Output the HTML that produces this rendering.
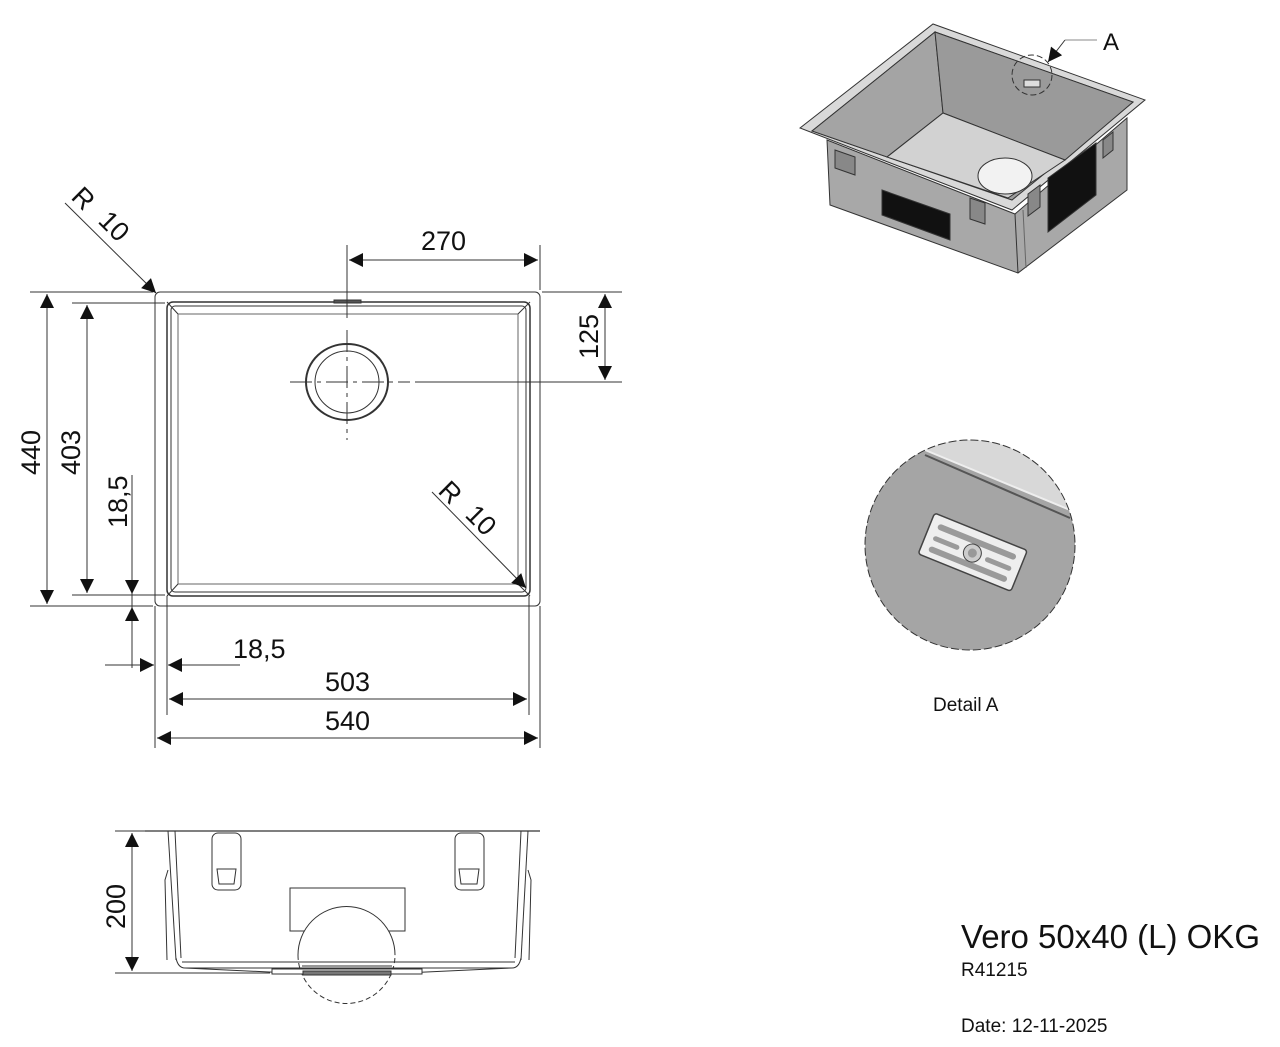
<!DOCTYPE html>
<html><head><meta charset="utf-8"><style>
html,body{margin:0;padding:0;background:#fff}
svg{display:block}
text{font-family:"Liberation Sans",sans-serif;fill:#111}
</style></head><body>
<svg width="1280" height="1047" viewBox="0 0 1280 1047" xmlns="http://www.w3.org/2000/svg">
<defs>
<marker id="b" viewBox="0 0 10 10" refX="10" refY="5" markerWidth="28" markerHeight="14" markerUnits="userSpaceOnUse" orient="auto-start-reverse"><path d="M0,0 L10,5 L0,10 Z" fill="#111"/></marker>
</defs>
<g stroke="#333" stroke-width="1" fill="none">
<rect x="155" y="292" width="385" height="314" rx="5"/>
<rect x="167" y="302" width="363" height="294" rx="6" stroke-width="1.5"/>
<rect x="171" y="306" width="355" height="286" rx="4"/>
<rect x="178" y="314" width="340" height="270" stroke="#666"/>
<line x1="167" y1="302" x2="178" y2="314"/><line x1="530" y1="302" x2="518" y2="314"/>
<line x1="167" y1="596" x2="178" y2="584"/><line x1="530" y1="596" x2="518" y2="584"/>
<rect x="334" y="300" width="27" height="3" fill="#555"/>
<ellipse cx="347" cy="382" rx="41" ry="38" stroke-width="2"/>
<ellipse cx="347" cy="382" rx="32" ry="31"/>
<line x1="290" y1="382" x2="410" y2="382" stroke-dasharray="22,5,4,5"/>
<line x1="347" y1="330" x2="347" y2="440" stroke-dasharray="22,5,4,5"/>
<line x1="347" y1="245" x2="347" y2="318"/>
<line x1="540" y1="245" x2="540" y2="290"/>
<line x1="349" y1="260" x2="538" y2="260" marker-start="url(#b)" marker-end="url(#b)"/>
<line x1="542" y1="292" x2="622" y2="292"/>
<line x1="415" y1="382" x2="622" y2="382"/>
<line x1="605" y1="294" x2="605" y2="380" marker-start="url(#b)" marker-end="url(#b)"/>
<line x1="30" y1="292" x2="153" y2="292"/>
<line x1="30" y1="606" x2="153" y2="606"/>
<line x1="72" y1="303" x2="165" y2="303"/>
<line x1="72" y1="595" x2="165" y2="595"/>
<line x1="47" y1="294" x2="47" y2="604" marker-start="url(#b)" marker-end="url(#b)"/>
<line x1="87" y1="305" x2="87" y2="593" marker-start="url(#b)" marker-end="url(#b)"/>
<line x1="132" y1="475" x2="132" y2="668"/>
<line x1="132" y1="560" x2="132" y2="594" marker-end="url(#b)"/>
<line x1="132" y1="640" x2="132" y2="607" marker-end="url(#b)"/>
<line x1="105" y1="665" x2="154" y2="665" marker-end="url(#b)"/>
<line x1="240" y1="665" x2="168" y2="665" marker-end="url(#b)"/>
<line x1="155" y1="606" x2="155" y2="748"/>
<line x1="167" y1="596" x2="167" y2="715"/>
<line x1="529" y1="596" x2="529" y2="715"/>
<line x1="540" y1="606" x2="540" y2="748"/>
<line x1="169" y1="699" x2="527" y2="699" marker-start="url(#b)" marker-end="url(#b)"/>
<line x1="157" y1="738" x2="538" y2="738" marker-start="url(#b)" marker-end="url(#b)"/>
<line x1="65" y1="203" x2="156" y2="293" marker-end="url(#b)"/>
<line x1="432" y1="492" x2="526" y2="588" marker-end="url(#b)"/>

<line x1="145" y1="831" x2="540" y2="831" stroke-width="1.3"/>
<line x1="168" y1="831" x2="176" y2="960"/><line x1="175" y1="831" x2="181" y2="958"/>
<line x1="528" y1="831" x2="521" y2="960"/><line x1="521" y1="831" x2="515" y2="958"/>
<path d="M168,870 L165,880 L167,960"/><path d="M528,870 L531,880 L529,960"/>
<path d="M176,958 Q178,968 185,968 L512,968 Q519,968 521,958"/>
<line x1="182" y1="962" x2="515" y2="962"/>
<path d="M185,968 L290,973 M405,973 L512,968"/>
<rect x="212" y="833" width="29" height="57" rx="6"/>
<path d="M217,869 L236,869 L234,884 L219,884 Z"/>
<rect x="455" y="833" width="29" height="57" rx="6"/>
<path d="M459,869 L479,869 L477,884 L461,884 Z"/>
<rect x="290" y="888" width="115" height="43" fill="#fff"/>
<path d="M298,955 A48,48 0 0 1 395,955" fill="#fff"/>
<path d="M298,955 A48,48 0 0 0 395,955" stroke-dasharray="5,3"/>
<rect x="272" y="969" width="150" height="5" fill="#fff"/>
<rect x="303" y="971" width="88" height="4" fill="#777"/>
<line x1="302" y1="966" x2="392" y2="966"/>
<line x1="115" y1="831" x2="145" y2="831"/>
<line x1="115" y1="973" x2="270" y2="973"/>
<line x1="132" y1="833" x2="132" y2="971" marker-start="url(#b)" marker-end="url(#b)"/>
</g>
<g font-size="27">
<text x="421" y="250">270</text>
<text transform="translate(598,359) rotate(-90)">125</text>
<text transform="translate(40,475) rotate(-90)">440</text>
<text transform="translate(80,475) rotate(-90)">403</text>
<text transform="translate(127,528) rotate(-90)">18,5</text>
<text x="233" y="658">18,5</text>
<text x="325" y="691">503</text>
<text x="325" y="730">540</text>
<text transform="translate(125,929) rotate(-90)">200</text>
<text transform="translate(70,198) rotate(45)">R</text>
<text transform="translate(97,222) rotate(45)">10</text>
<text transform="translate(437,492) rotate(45)">R</text>
<text transform="translate(464,516) rotate(45)">10</text>
</g>

<g stroke="#333" stroke-width="1">
<path d="M827,140 L1015,214 L1127,118 L1127,190 L1018,273 L830,205 Z" fill="#a8a8a8"/>
<path d="M1015,214 L1018,273" fill="none"/>
<path d="M1023,210 L1026,268" fill="none" stroke="#666"/>
<path d="M800,128 L933,24 L1145,100 L1012,210 Z" fill="#d9d9d9"/>
<path d="M812,131 L935,32 L1133,102 L1012,200 Z" fill="#9e9e9e"/>
<path d="M935,32 L943,113 L887,157 L812,131 Z" fill="#a4a4a4"/>
<path d="M935,32 L1133,102 L1065,160 L943,113 Z" fill="#9a9a9a"/>
<path d="M887,157 L943,113 L1065,160 L1008,198 Z" fill="#d2d2d2"/>
<ellipse cx="1005" cy="176" rx="27" ry="18" fill="#f2f2f2" stroke="#333"/>
<path d="M882,190 L950,214 L950,240 L882,215 Z" fill="#111"/>
<path d="M1048,178 L1096,143 L1096,195 L1048,232 Z" fill="#111"/>
<path d="M835,150 L855,157 L855,175 L835,168 Z" fill="#888"/>
<path d="M970,198 L985,203 L985,224 L970,219 Z" fill="#888"/>
<path d="M1028,194 L1040,185 L1040,207 L1028,216 Z" fill="#888"/>
<path d="M1103,140 L1113,132 L1113,150 L1103,158 Z" fill="#888"/>
<circle cx="1032" cy="75" r="20" fill="none" stroke-dasharray="6,3"/>
<rect x="1024" y="80" width="16" height="7" fill="#ddd"/>
<polyline points="1065,40 1097,40" fill="none" stroke="#888"/>
<line x1="1065" y1="40" x2="1048" y2="62" marker-end="url(#b)"/>
</g>
<text x="1103" y="50" font-size="24">A</text>

<defs><clipPath id="c"><circle cx="970" cy="545" r="105"/></clipPath></defs>
<circle cx="970" cy="545" r="105" fill="#a5a5a5"/>
<g clip-path="url(#c)">
<path d="M900,440 L1080,440 L1080,515 Z" fill="#d8d8d8"/>
<path d="M925,455 L1070,518" stroke="#555" stroke-width="2" fill="none"/>
<path d="M925,450 L1075,512" stroke="#eee" stroke-width="2" fill="none"/>
</g>
<circle cx="970" cy="545" r="105" fill="none" stroke="#333" stroke-dasharray="8,3"/>
<g transform="translate(972,554) rotate(22)">
<rect x="-50" y="-24" width="100" height="44" rx="3" fill="#eee" stroke="#444" stroke-width="1.5"/>
<rect x="-42" y="-16" width="84" height="6" rx="3" fill="#9a9a9a"/>
<rect x="-42" y="8" width="84" height="6" rx="3" fill="#9a9a9a"/>
<rect x="-42" y="-3" width="28" height="5" rx="2.5" fill="#9a9a9a"/>
<rect x="14" y="-3" width="28" height="5" rx="2.5" fill="#9a9a9a"/>
<circle cx="0" cy="-1" r="9" fill="#ccc" stroke="#444"/>
<circle cx="0" cy="-1" r="4.5" fill="#999"/>
</g>
<text x="933" y="711" font-size="19">Detail A</text>

<text x="961" y="948" font-size="33">Vero 50x40 (L) OKG</text>
<text x="961" y="976" font-size="19">R41215</text>
<text x="961" y="1032" font-size="19">Date: 12-11-2025</text>
</svg>
</body></html>
